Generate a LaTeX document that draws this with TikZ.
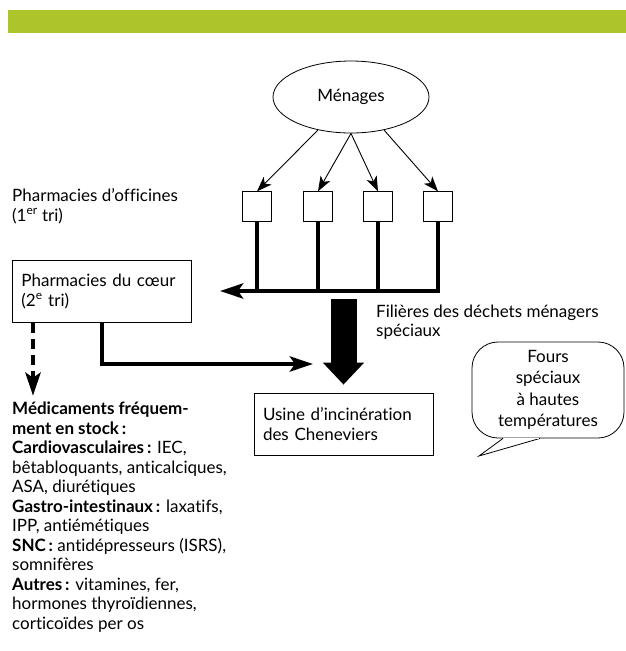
\documentclass[tikz,border=0pt]{standalone}
\usepackage{fontspec}
\setmainfont{Lato}[Ligatures=NoCommon]
\usepackage{tikz}
\usetikzlibrary{arrows.meta}
\usetikzlibrary{shapes.geometric}
\usepackage{xcolor}
\definecolor{bandgreen}{RGB}{173,196,42}

\begin{document}
\begin{tikzpicture}[x=1pt,y=-1pt,
  font=\fontsize{17}{19.5}\selectfont,
  box/.style={draw,line width=0.8pt,inner sep=0pt},
  textbox/.style={box,minimum width=179pt,minimum height=62pt,text width=161pt,align=left},
  plain/.style={inner sep=0pt,align=left},
  thin arrow/.style={line width=0.9pt,-{Stealth[length=15pt,width=11pt,inset=4pt]}},
  thick line/.style={line width=4.5pt},
  thick arrow/.style={thick line,-{Stealth[length=23pt,width=15pt,inset=5pt]}},
  ]

\useasboundingbox (0,0) rectangle (626,651);

% green band on top
\fill[bandgreen] (8,10) rectangle (626,33);

% households and the four collection points
\node[box, ellipse, minimum width=156pt, minimum height=72pt] (menages) at (351,97) {Ménages};
\foreach \i/\x in {1/257,2/318,3/378,4/438}
  \node[box, minimum size=29.5pt] (b\i) at (\x,206.5) {};

\draw[thin arrow] (menages.225) -- (b1.north);
\draw[thin arrow] (menages.south) -- (b2.north);
\draw[thin arrow] (menages.south) -- (b3.north);
\draw[thin arrow] (menages.315) -- (b4.north);

\node[plain, anchor=west] (officines) at (12,206) {Pharmacies d’officines\\(1\textsuperscript{er} tri)};

% thick collecting lines
\coordinate (tri) at (220,291);
\draw[thick arrow] (b4.south) |- (tri);
\foreach \i in {1,2,3}
  \draw[thick line] (b\i.south) -- (b\i.south |- tri);

\node[textbox, anchor=north west] (coeur) at (12,260) {\mbox{Pharmacies du cœur}\\(2\textsuperscript{e} tri)};

\node[plain, anchor=west] (filieres) at (376,322) {Filières des déchets ménagers\\spéciaux};

\node[textbox] (usine) at (343.5,424) {\mbox{Usine d’incinération}\\des Cheneviers};

% big flow arrow
\coordinate (flowtop) at (343.5,299);
\draw[line width=26pt, -{Triangle[length=22pt,width=40pt]}] (flowtop) -- ([yshift=8pt]usine.north);

% from the 2nd sorting to the plant
\coordinate (inc) at (313,364);
\draw[thick arrow] (coeur.south) |- (inc);

% speech bubble
\node[box, rounded corners=26pt, minimum width=152pt, minimum height=96pt, align=center,
  font=\fontsize{17}{21.5}\selectfont] (fours) at (548,390) {Fours\\spéciaux\\à hautes\\températures};
\filldraw[fill=white, line width=0.8pt] ([xshift=-45pt]fours.south) -- (479,456) -- ([xshift=-8pt]fours.south);
\draw[white, line width=1.6pt] ([xshift=-44pt]fours.south) -- ([xshift=-9pt]fours.south);

% medicines in stock
\node[plain, anchor=west] (meds) at (12,517) {%
\textbf{Médicaments fréquem-}\\
\textbf{ment en stock\,:}\\
\textbf{Cardiovasculaires\,:} IEC,\\
bêtabloquants, anticalciques,\\
ASA, diurétiques\\
\textbf{Gastro-intestinaux\,:} laxatifs,\\
IPP, antiémétiques\\
\textbf{SNC\,:} antidépresseurs (ISRS),\\
somnifères\\
\textbf{Autres\,:} vitamines, fer,\\
hormones thyroïdiennes,\\
corticoïdes per os};

\draw[thick arrow, dash pattern=on 10pt off 6pt] ([xshift=21pt]coeur.south west) -- ([xshift=21pt,yshift=6pt]meds.north west);

\end{tikzpicture}
\end{document}
